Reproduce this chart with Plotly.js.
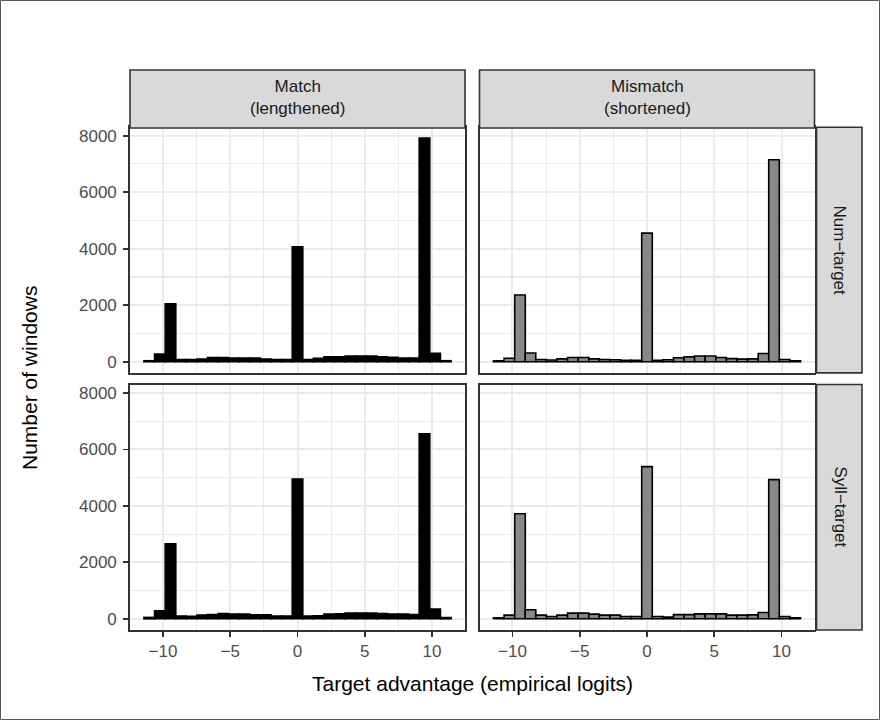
<!DOCTYPE html>
<html>
<head>
<meta charset="utf-8">
<script src="https://cdn.plot.ly/plotly-3.0.1.min.js"></script>
<style>html,body{margin:0;padding:0;background:#fff;}#chart{width:880px;height:720px;}</style>
</head>
<body>
<div id="chart"></div>
<script>
// Histogram bin centres (empirical logits)
const binCenters = [-11.02, -10.23, -9.44, -8.66, -7.87, -7.08, -6.30, -5.51, -4.72, -3.93, -3.15, -2.36, -1.57, -0.79, 0,
                    0.79, 1.57, 2.36, 3.15, 3.93, 4.72, 5.51, 6.30, 7.08, 7.87, 8.66, 9.44, 10.23, 11.02];

const colLabels = ["Match<br>(lengthened)", "Mismatch<br>(shortened)"];
const rowLabels = ["Num\u2212target", "Syll\u2212target"];

// counts per bin
const countsMatchNum = [35, 270, 2050, 80, 80, 90, 150, 150, 130, 130, 130, 90, 80, 80, 4070,
                        80, 120, 177, 177, 200, 200, 200, 177, 154, 130, 130, 7920, 295, 35];
const countsMismatchNum = [35, 120, 2360, 310, 80, 60, 100, 150, 150, 100, 80, 70, 50, 50, 4550,
                           50, 70, 140, 170, 200, 200, 150, 110, 90, 100, 290, 7150, 80, 35];
const countsMatchSyll = [50, 280, 2660, 100, 90, 130, 150, 190, 165, 165, 140, 140, 100, 100, 4950,
                         100, 110, 165, 180, 200, 200, 200, 190, 165, 165, 150, 6550, 350, 45];
const countsMismatchSyll = [35, 130, 3720, 320, 130, 80, 130, 200, 200, 165, 130, 130, 80, 80, 5390,
                            80, 60, 150, 150, 175, 175, 175, 130, 130, 140, 225, 4930, 80, 35];

const xTicks = [-10, -5, 0, 5, 10];
const xMinor = [-7.5, -2.5, 2.5, 7.5];
const yTicks = [0, 2000, 4000, 6000, 8000];
const yMinor = [1000, 3000, 5000, 7000];

const W = 880, H = 720;
const px = v => v / W;
const py = v => (H - v) / H;

const BINW = 0.787;
function barTrace(y, xa, ya, fill) {
  return {type: 'bar', x: binCenters, y: y, xaxis: xa, yaxis: ya, width: BINW,
          marker: {color: fill, line: {color: '#000000', width: 1.6}}, hoverinfo: 'x+y'};
}
const traces = [
  barTrace(countsMatchNum, 'x', 'y', '#000000'),
  barTrace(countsMismatchNum, 'x2', 'y2', '#888888'),
  barTrace(countsMatchSyll, 'x3', 'y3', '#000000'),
  barTrace(countsMismatchSyll, 'x4', 'y4', '#888888')
];

const font = '"Liberation Sans", Arial, Helvetica, sans-serif';
const xDomL = [px(130), px(465)], xDomR = [px(479.5), px(814.5)];
const yDomT = [py(372.9), py(127.2)], yDomB = [py(630), py(384.5)];
const XR = [-12.45, 12.45], YR = [-396, 8300];
const tickFont = {family: font, size: 17, color: '#4D4D4D'};

function xax(domain, anchor, labels) {
  return {domain: domain, anchor: anchor, range: XR, tickvals: xTicks, showticklabels: labels,
    ticks: labels ? 'outside' : '', ticklen: 5, tickwidth: 1.8, tickcolor: '#333333',
    tickfont: tickFont,
    showgrid: true, gridcolor: '#EBEBEB', gridwidth: 2, zeroline: false,
    minor: {tickvals: xMinor, showgrid: true, gridcolor: '#EBEBEB', gridwidth: 1.1, ticks: ''},
    showline: true, mirror: true, linecolor: '#333333', linewidth: 1.8, fixedrange: true};
}
function yax(domain, anchor, labels) {
  return {domain: domain, anchor: anchor, range: YR, tickvals: yTicks, tickformat: 'd', showticklabels: labels,
    ticks: labels ? 'outside' : '', ticklen: 5, tickwidth: 1.8, tickcolor: '#333333',
    tickfont: tickFont, ticklabelstandoff: 3,
    showgrid: true, gridcolor: '#EBEBEB', gridwidth: 2, zeroline: false,
    minor: {tickvals: yMinor, showgrid: true, gridcolor: '#EBEBEB', gridwidth: 1.1, ticks: ''},
    showline: true, mirror: true, linecolor: '#333333', linewidth: 1.8, fixedrange: true};
}

const stripStyle = {type: 'rect', xref: 'paper', yref: 'paper', fillcolor: '#D9D9D9',
                    line: {color: '#333333', width: 1.6}, layer: 'above'};
const shapes = [
  Object.assign({x0: px(130), x1: px(465), y0: py(128), y1: py(70)}, stripStyle),
  Object.assign({x0: px(479.5), x1: px(814.5), y0: py(128), y1: py(70)}, stripStyle),
  Object.assign({x0: px(816.5), x1: px(862), y0: py(372.9), y1: py(127.2)}, stripStyle),
  Object.assign({x0: px(816.5), x1: px(862), y0: py(630), y1: py(384.5)}, stripStyle),
  {type: 'rect', xref: 'paper', yref: 'paper', x0: px(0.5), x1: px(879.5), y0: py(719.5), y1: py(0.5),
   line: {color: '#555555', width: 1}, fillcolor: 'rgba(0,0,0,0)'}
];

const stripFont = {family: font, size: 17, color: '#1A1A1A'};
function ann(text, x, y, f, angle) {
  return {text: text, x: px(x), y: py(y), xref: 'paper', yref: 'paper', showarrow: false,
          xanchor: 'center', yanchor: 'middle', font: f, textangle: angle || 0};
}
const titleFont = {family: font, size: 21, color: '#000000'};
const annotations = [
  ann(colLabels[0], 297.5, 98, stripFont),
  ann(colLabels[1], 647, 98, stripFont),
  ann(rowLabels[0], 839.5, 250, stripFont, 90),
  ann(rowLabels[1], 839.5, 507, stripFont, 90),
  ann('Number of windows', 29, 378, titleFont, -90),
  ann('Target advantage (empirical logits)', 472.5, 683, titleFont)
];

const layout = {
  width: W, height: H, margin: {l: 0, r: 0, t: 0, b: 0},
  paper_bgcolor: '#FFFFFF', plot_bgcolor: '#FFFFFF', showlegend: false,
  font: {family: font},
  xaxis: xax(xDomL, 'y', false),
  yaxis: yax(yDomT, 'x', true),
  xaxis2: xax(xDomR, 'y2', false),
  yaxis2: yax(yDomT, 'x2', false),
  xaxis3: xax(xDomL, 'y3', true),
  yaxis3: yax(yDomB, 'x3', true),
  xaxis4: xax(xDomR, 'y4', true),
  yaxis4: yax(yDomB, 'x4', false),
  shapes: shapes, annotations: annotations
};

Plotly.newPlot('chart', traces, layout, {displayModeBar: false, staticPlot: true});
</script>
</body>
</html>
